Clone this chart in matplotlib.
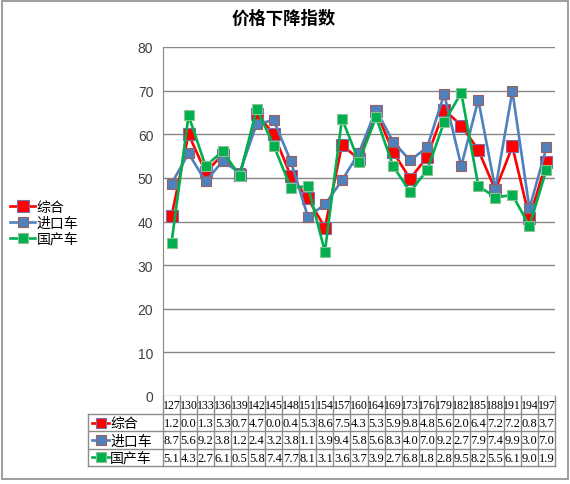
import matplotlib
matplotlib.use("Agg")
import matplotlib.pyplot as plt
from matplotlib.patches import Rectangle
from matplotlib.lines import Line2D

plt.rcParams['font.family'] = ['Noto Sans CJK SC', 'DejaVu Sans']

# data
categories = ["127", "130", "133", "136", "139", "142", "145", "148", "151", "154", "157", "160",
              "164", "169", "173", "176", "179", "182", "185", "188", "191", "194", "197"]
zonghe = [41.2, 60.0, 51.3, 55.3, 50.7, 64.7, 60.0, 50.4, 45.3, 38.6, 57.5, 54.3,
          65.3, 55.9, 49.8, 54.8, 65.6, 62.0, 56.4, 47.2, 57.2, 40.8, 53.7]
jinkou = [48.7, 55.6, 49.2, 53.8, 51.2, 62.4, 63.2, 53.8, 41.1, 43.9, 49.4, 55.8,
          65.6, 58.3, 54.0, 57.0, 69.2, 52.7, 67.9, 47.4, 69.9, 43.0, 57.0]
guochan = [35.1, 64.3, 52.7, 56.1, 50.5, 65.8, 57.4, 47.7, 48.1, 33.1, 63.6, 53.7,
           63.9, 52.7, 46.8, 51.8, 62.8, 69.5, 48.2, 45.5, 46.1, 39.0, 51.9]
names = ["综合", "进口车", "国产车"]

series = [zonghe, jinkou, guochan]
colors = ["#FF0000", "#4F81BD", "#00B050"]
edges = ["#7A6FB0", "#A0605A", "#8CC08C"]
msizes = [8.0, 7.4, 7.0]

W, H = 570, 485
fig = plt.figure(figsize=(W / 100, H / 100), dpi=100)


def px(x0, y0, x1, y1):
    return [x0 / W, 1 - y1 / H, (x1 - x0) / W, (y1 - y0) / H]


# pixel canvas for border, table, title
bg = fig.add_axes([0, 0, 1, 1])
bg.set_xlim(0, W)
bg.set_ylim(H, 0)
bg.axis("off")
bg.add_patch(Rectangle((1.5, 1.5), W - 4, 478, fill=False, ec="#8C8C8C", lw=1.2))

left, right, top, bottom = 163, 555, 48, 397
ax = fig.add_axes(px(left, top, right, bottom))
n = len(categories)
xs = list(range(n))
for i, (vals, c, ec, ms, nm) in enumerate(zip(series, colors, edges, msizes, names)):
    ax.plot(xs, vals, color=c, lw=1.9, marker="s", ms=ms, mfc=c, mec=ec, mew=0.8,
            label=nm, zorder=3 + i)
ax.set_xlim(-0.5, n - 0.5)
ax.set_ylim(0, 80)
ax.set_yticks(range(0, 81, 10))
ax.set_xticks([])
ax.tick_params(axis="y", length=0, pad=7, labelsize=10, colors="#404040")
for lab in ax.get_yticklabels():
    lab.set_family("Liberation Sans")
ax.yaxis.grid(True, color="#868686", lw=1)
ax.set_axisbelow(True)
for s in ["top", "right", "bottom"]:
    ax.spines[s].set_visible(False)
ax.spines["left"].set_color("#868686")
ax.patch.set_alpha(0)

# title
fig.text(284 / W, 1 - 19 / H, "价格下降指数", ha="center", va="center",
         fontsize=12.5, fontweight="bold")

# legend on the left
ax.legend(loc="center left", bbox_to_anchor=(10 / W, 1 - 224 / H), bbox_transform=fig.transFigure,
          frameon=False, fontsize=10, handlelength=1.8, handletextpad=0.1, labelspacing=0.12,
          borderaxespad=0, borderpad=0)

# data table below the plot
cw = (right - left) / n
row_y = [397, 415, 432.3, 449.6, 467]
gc = "#8C8C8C"
lab_left = 88
for i in range(n + 1):
    bg.plot([left + i * cw] * 2, [row_y[0], row_y[-1]], color=gc, lw=1)
bg.plot([lab_left, lab_left], [row_y[1], row_y[-1]], color=gc, lw=1)
for k in range(1, len(row_y)):
    bg.plot([lab_left, right], [row_y[k], row_y[k]], color=gc, lw=1)


def cell_text(x0, y0, x1, y1, s, size):
    # narrow cells: the text gets cut at the cell edges like in the original
    t = bg.text((x0 + x1) / 2, (y0 + y1) / 2 + 0.5, s, ha="center", va="center",
                fontsize=size, family="Liberation Serif", clip_on=True)
    clip = Rectangle((x0 + 0.5, y0), x1 - x0 - 1, y1 - y0, transform=bg.transData)
    t.set_clip_path(clip)
    return t


for i, cat in enumerate(categories):
    cell_text(left + i * cw, row_y[0], left + (i + 1) * cw, row_y[1], cat, 8.6)

for k, (vals, c, ec, ms, nm) in enumerate(zip(series, colors, edges, msizes, names)):
    y0, y1 = row_y[k + 1], row_y[k + 2]
    yc = (y0 + y1) / 2
    bg.add_line(Line2D([92, 109], [yc, yc], color=c, lw=1.9))
    bg.add_line(Line2D([100.5], [yc], marker="s", ms=6.5, mfc=c, mec=ec, mew=0.8))
    bg.text(110, yc + 0.5, nm, ha="left", va="center", fontsize=10)
    for i, v in enumerate(vals):
        shown = ("%.2f" % v)[1:4]
        cell_text(left + i * cw, y0, left + (i + 1) * cw, y1, shown, 9)

fig.savefig("out.png", dpi=100)
